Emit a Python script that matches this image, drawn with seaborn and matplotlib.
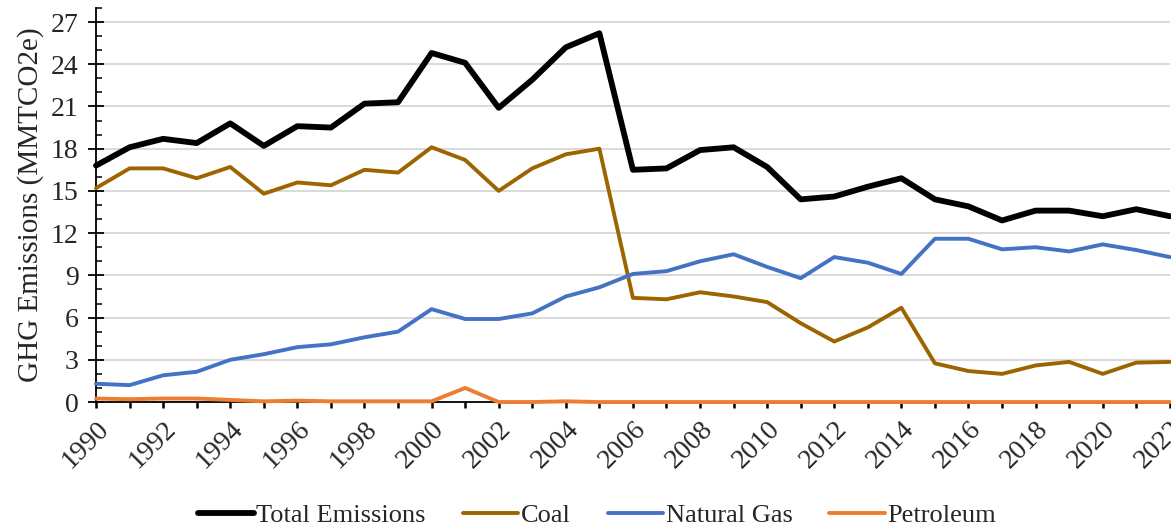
import matplotlib
matplotlib.use("Agg")
import matplotlib.pyplot as plt
from matplotlib.ticker import MultipleLocator
import seaborn as sns

# Data (MMTCO2e)
years = list(range(1990, 2023))
total = [16.8, 18.1, 18.7, 18.4, 19.8, 18.2, 19.6, 19.5, 21.2, 21.3, 24.8,
         24.1, 20.9, 22.9, 25.2, 26.2, 16.5, 16.6, 17.9, 18.1, 16.7,
         14.4, 14.6, 15.3, 15.9, 14.4, 13.9, 12.9, 13.6, 13.6, 13.2,
         13.7, 13.2]
coal = [15.2, 16.6, 16.6, 15.9, 16.7, 14.8, 15.6, 15.4, 16.5, 16.3, 18.1,
        17.2, 15.0, 16.6, 17.6, 18.0, 7.4, 7.3, 7.8, 7.5, 7.1,
        5.6, 4.3, 5.3, 6.7, 2.75, 2.2, 2.0, 2.6, 2.85, 2.0,
        2.8, 2.85]
natural_gas = [1.3, 1.2, 1.9, 2.15, 3.0, 3.4, 3.9, 4.1, 4.6, 5.0, 6.6,
               5.9, 5.9, 6.3, 7.5, 8.15, 9.1, 9.3, 10.0, 10.5, 9.6,
               8.8, 10.3, 9.9, 9.1, 11.6, 11.6, 10.85, 11.0, 10.7, 11.2,
               10.8, 10.3]
petroleum = [0.25, 0.2, 0.25, 0.25, 0.15, 0.05, 0.1, 0.05, 0.05, 0.05, 0.05,
             1.0, 0.0, 0.0, 0.05, 0.0, 0.0, 0.0, 0.0, 0.0, 0.0,
             0.0, 0.0, 0.0, 0.0, 0.0, 0.0, 0.0, 0.0, 0.0, 0.0,
             0.0, 0.0]

series = [
    ("Total Emissions", total, "#000000", 4.2),
    ("Coal", coal, "#9C6500", 2.8),
    ("Natural Gas", natural_gas, "#4472C4", 2.8),
    ("Petroleum", petroleum, "#ED7D31", 2.8),
]

sns.set_theme(style="white")
plt.rcParams["font.family"] = ["Liberation Serif", "DejaVu Serif"]

fig = plt.figure(figsize=(11.71, 5.29), dpi=100)
ax = fig.add_axes([0.082, 0.24, 0.917, 0.745])

for name, vals, col, lw in series:
    sns.lineplot(x=years, y=vals, color=col, linewidth=lw, label=name,
                 ax=ax, clip_on=False, zorder=3)

ax.set_xlim(1990, 2022)
ax.set_ylim(0, 28)
ax.set_yticks(range(0, 28, 3))
ax.yaxis.set_minor_locator(MultipleLocator(1))
ax.set_xticks(years)
ax.set_xticklabels([str(y) if y % 2 == 0 else "" for y in years],
                   rotation=45, ha="right", rotation_mode="anchor")

ax.grid(axis="y", color="#d9d9d9", linewidth=1.4)
ax.set_axisbelow(True)
for s in ["top", "right"]:
    ax.spines[s].set_visible(False)
for s in ["left", "bottom"]:
    ax.spines[s].set_color("black")
    ax.spines[s].set_linewidth(1.3)

ax.tick_params(axis="y", which="major", direction="inout", length=11,
               width=1.3, color="black", labelsize=20, pad=7, left=True)
ax.tick_params(axis="y", which="minor", direction="in", length=4.5,
               width=1.1, color="black", left=True)
ax.tick_params(axis="x", which="major", direction="out", length=4.5,
               width=1.8, color="black", labelsize=20, pad=6, bottom=True)

ax.set_ylabel("GHG Emissions (MMTCO2e)", fontsize=21, labelpad=5)
ax.set_xlabel("")

ax.get_legend().remove()
handles, labels = ax.get_legend_handles_labels()
fig.legend(handles, labels, loc="center", bbox_to_anchor=(0.51, 0.026),
           ncol=4, frameon=False, fontsize=19, handlelength=2.1,
           columnspacing=1.4, handletextpad=0.1)

fig.savefig("out.png", dpi=100)
